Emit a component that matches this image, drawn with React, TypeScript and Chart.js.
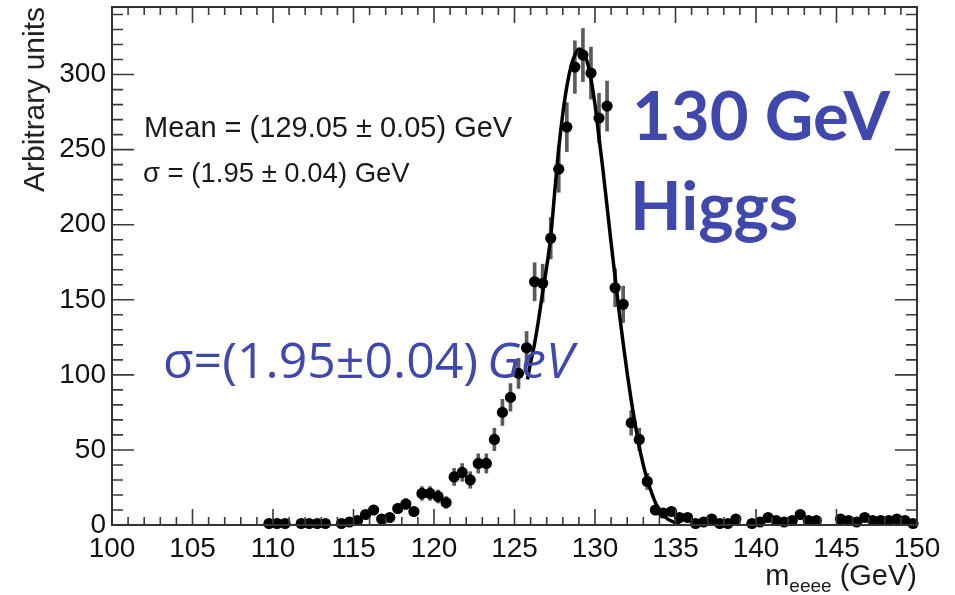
import React, { useEffect, useRef } from "react";
import { Chart, registerables } from "chart.js";

Chart.register(...registerables);

// ---- axis setup ----
const X_MIN = 100;
const X_MAX = 150;
const X_MAJOR = 5;
const X_MINOR = 1;
const Y_MIN = 0;
const Y_MAX = 345;
const Y_MAJOR = 50;
const Y_MINOR = 10;

// ---- histogram bins (0.5 GeV) ----
const binCenters = [
  109.75, 110.25, 110.75, 111.25, 111.75, 112.25, 112.75, 113.25, 113.75, 114.25,
  114.75, 115.25, 115.75, 116.25, 116.75, 117.25, 117.75, 118.25, 118.75, 119.25,
  119.75, 120.25, 120.75, 121.25, 121.75, 122.25, 122.75, 123.25, 123.75, 124.25,
  124.75, 125.25, 125.75, 126.25, 126.75, 127.25, 127.75, 128.25, 128.75, 129.25,
  129.75, 130.25, 130.75, 131.25, 131.75, 132.25, 132.75, 133.25, 133.75, 134.25,
  134.75, 135.25, 135.75, 136.25, 136.75, 137.25, 137.75, 138.25, 138.75, 139.25,
  139.75, 140.25, 140.75, 141.25, 141.75, 142.25, 142.75, 143.25, 143.75, 144.25,
  144.75, 145.25, 145.75, 146.25, 146.75, 147.25, 147.75, 148.25, 148.75, 149.25,
  149.75,
];

const binValues: (number | null)[] = [
  1, 1, 1, null, 1, 1, 1, 1, null, 1,
  2, 3, 7, 10, 4, 5, 11, 14, 9, 21,
  21, 19, 15, 32, 35, 30, 41, 41, 57, 75,
  85, 101, 118, 162, 161, 191, 237, 265, 305, 313,
  301, 271, 279, 158, 147, 68, 57, 29, 10, 8,
  9, 5, 5, 1, 2, 4, 1, 1, 4, null,
  1, 2, 5, 3, 2, 3, 7, 3, 3, null,
  null, 4, 3, 2, 5, 3, 3, 3, 4, 3,
  1,
];

const binErrors = [
  1, 1, 1, 0, 1, 1, 1, 1, 0, 1,
  1.4, 1.7, 2.6, 3.2, 2, 2.2, 3.3, 3.7, 3, 4.6,
  4.6, 4.4, 3.9, 5.7, 5.9, 5.5, 6.4, 6.4, 7.5, 8.7,
  9.2, 10, 10.9, 12.7, 12.7, 13.8, 15.4, 16.3, 17.5, 17.7,
  17.3, 16.5, 16.7, 12.6, 12.1, 8.2, 7.5, 5.4, 3.2, 2.8,
  3, 2.2, 2.2, 1, 1.4, 2, 1, 1, 2, 0,
  1, 1.4, 2.2, 1.7, 1.4, 1.7, 2.6, 1.7, 1.7, 0,
  0, 2, 1.7, 1.4, 2.2, 1.7, 1.7, 1.7, 2, 1.7,
  1,
];

// ---- fit curve ----
const fitX = [
  125.8, 126, 126.25, 126.5, 126.75, 127, 127.25, 127.5, 127.75, 128,
  128.25, 128.5, 128.75, 129, 129.25, 129.5, 129.75, 130, 130.25, 130.5,
  130.75, 131, 131.25, 131.5, 131.75, 132, 132.25, 132.5, 132.75, 133,
  133.25, 133.5, 133.75, 134, 134.5, 135, 135.3,
];
const fitY = [
  97, 108, 121, 137, 155, 172, 192, 222, 251, 274,
  292, 305, 313, 317, 315, 309, 297, 280, 258, 236,
  212, 188, 165, 142, 121, 101, 83, 67, 52, 40,
  30, 22, 15, 10, 4, 1.5, 1,
];

const TEXT_FONT = "'Liberation Sans', Arial, Helvetica, sans-serif";
const BLUE = "#4049ab";

const frameTicks = {
  id: "frameTicks",
  afterDraw(chart: any) {
    const { ctx, chartArea: a, scales } = chart;
    const xs = scales.x;
    const ys = scales.y;
    ctx.save();
    ctx.strokeStyle = "#3a3a3a";
    ctx.lineWidth = 1.6;
    ctx.beginPath();
    for (let v = X_MIN; v <= X_MAX + 1e-9; v += X_MINOR) {
      const px = xs.getPixelForValue(v);
      const major = Math.abs(((v - X_MIN) / X_MAJOR) - Math.round((v - X_MIN) / X_MAJOR)) < 1e-6;
      const len = major ? 16 : 8;
      ctx.moveTo(px, a.bottom);
      ctx.lineTo(px, a.bottom - len);
      ctx.moveTo(px, a.top);
      ctx.lineTo(px, a.top + len);
    }
    for (let v = Y_MIN; v <= Y_MAX + 1e-9; v += Y_MINOR) {
      const py = ys.getPixelForValue(v);
      const major = Math.abs((v / Y_MAJOR) - Math.round(v / Y_MAJOR)) < 1e-6;
      const len = major ? 22 : 11;
      ctx.moveTo(a.left, py);
      ctx.lineTo(a.left + len, py);
      ctx.moveTo(a.right, py);
      ctx.lineTo(a.right - len, py);
    }
    ctx.stroke();
    ctx.lineWidth = 2;
    ctx.strokeStyle = "#333";
    ctx.strokeRect(a.left, a.top, a.right - a.left, a.bottom - a.top);
    ctx.restore();
  },
};

const zeroPadding = (s: any) => {
  s.paddingTop = 0;
  s.paddingBottom = 0;
  s.paddingLeft = 0;
  s.paddingRight = 0;
};

export default function App() {
  const canvasRef = useRef<HTMLCanvasElement | null>(null);

  useEffect(() => {
    if (!canvasRef.current) return;
    const points: { x: number; y: number }[] = [];
    const bars: { x: number; y: [number, number] }[] = [];
    binCenters.forEach((x, i) => {
      const v = binValues[i];
      if (v == null) return;
      points.push({ x, y: v });
      const e = binErrors[i];
      bars.push({ x, y: [Math.max(0, v - e), v + e] });
    });
    const fit = fitX.map((x, i) => ({ x, y: fitY[i] }));

    const chart = new Chart(canvasRef.current, {
      type: "scatter",
      data: {
        datasets: [
          {
            type: "line",
            label: "fit",
            data: fit,
            borderColor: "#000",
            borderWidth: 3.5,
            pointRadius: 0,
            tension: 0.4,
            cubicInterpolationMode: "monotone",
            fill: false,
            order: 0,
          } as any,
          {
            type: "scatter",
            label: "data",
            data: points,
            backgroundColor: "#000",
            borderColor: "#000",
            pointRadius: 5.6,
            pointBorderWidth: 0,
            clip: false,
            order: 1,
          } as any,
          {
            type: "bar",
            label: "errors",
            data: bars,
            backgroundColor: "rgba(50,50,50,0.8)",
            barThickness: 3,
            grouped: false,
            order: 2,
          } as any,
        ],
      },
      options: {
        responsive: false,
        animation: false,
        events: [],
        layout: { padding: { top: 7, right: 38, left: 0, bottom: 0 } },
        plugins: {
          legend: { display: false },
          tooltip: { enabled: false },
        },
        scales: {
          x: {
            type: "linear",
            min: X_MIN,
            max: X_MAX,
            offset: false,
            grid: { display: false, drawTicks: false },
            border: { display: false },
            ticks: {
              stepSize: X_MAJOR,
              autoSkip: false,
              maxRotation: 0,
              padding: 7,
              color: "#111",
              font: { family: TEXT_FONT, size: 28 },
            },
            afterFit: (s: any) => {
              s.height = 70;
              zeroPadding(s);
            },
          },
          y: {
            type: "linear",
            min: Y_MIN,
            max: Y_MAX,
            grid: { display: false, drawTicks: false },
            border: { display: false },
            ticks: {
              stepSize: Y_MAJOR,
              includeBounds: false,
              padding: 6,
              color: "#111",
              font: { family: TEXT_FONT, size: 28 },
            },
            title: {
              display: true,
              text: "Arbitrary units",
              align: "end",
              color: "#222",
              font: { family: TEXT_FONT, size: 30 },
              padding: { top: 18, bottom: 0 },
            },
            afterFit: (s: any) => {
              s.width = 112;
              zeroPadding(s);
            },
          },
        },
      },
      plugins: [frameTicks],
    } as any);
    return () => chart.destroy();
  }, []);

  const base: React.CSSProperties = {
    position: "absolute",
    whiteSpace: "nowrap",
    lineHeight: 1,
    margin: 0,
  };

  return (
    <div
      style={{
        position: "absolute",
        left: 0,
        top: 0,
        width: 955,
        height: 595,
        background: "#fff",
        overflow: "hidden",
      }}
    >
      <canvas ref={canvasRef} width={955} height={595} style={{ display: "block" }} />
      <div style={{ ...base, left: 144, top: 113, fontFamily: TEXT_FONT, fontSize: 29, color: "#1a1a1a" }}>
        Mean = (129.05 ± 0.05) GeV
      </div>
      <div style={{ ...base, left: 143, top: 159, fontFamily: TEXT_FONT, fontSize: 27.5, color: "#1a1a1a" }}>
        σ = (1.95 ± 0.04) GeV
      </div>
      <div style={{ ...base, left: 632, top: 81, fontFamily: "Lato, 'Open Sans', sans-serif", fontWeight: 700, fontSize: 67, color: BLUE }}>
        130 GeV
      </div>
      <div style={{ ...base, left: 630, top: 171, fontFamily: "Lato, 'Open Sans', sans-serif", fontWeight: 700, fontSize: 67, color: BLUE }}>
        Higgs
      </div>
      <div style={{ ...base, left: 163, top: 334, fontFamily: "'Open Sans', 'Noto Sans', sans-serif", fontSize: 50, color: BLUE }}>
        σ=(1.95±0.04)<span style={{ fontStyle: "italic", marginLeft: 9 }}>GeV</span>
      </div>
      <div style={{ ...base, right: 38, top: 561, fontFamily: TEXT_FONT, fontSize: 29, color: "#1a1a1a" }}>
        m<span style={{ fontSize: 19, position: "relative", top: 7 }}>eeee</span> (GeV)
      </div>
    </div>
  );
}
